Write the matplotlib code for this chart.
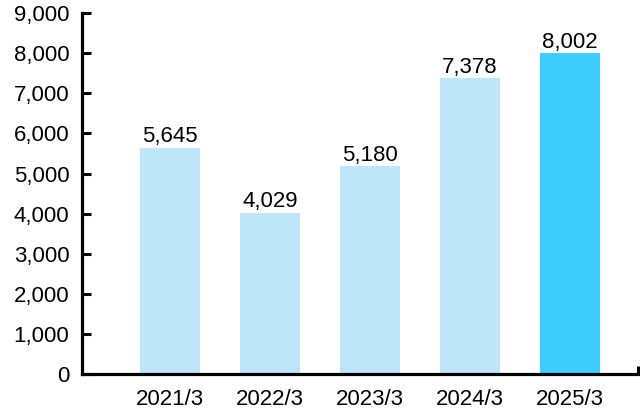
import matplotlib
matplotlib.use("Agg")
import matplotlib.pyplot as plt
from matplotlib.ticker import FuncFormatter

categories = ["2021/3", "2022/3", "2023/3", "2024/3", "2025/3"]
values = [5645, 4029, 5180, 7378, 8002]
colors = ["#BEE5F8", "#BEE5F8", "#BEE5F8", "#BEE5F8", "#3ECEFD"]
yticks = [0, 1000, 2000, 3000, 4000, 5000, 6000, 7000, 8000, 9000]

plt.rcParams['font.family'] = ['Liberation Sans', 'DejaVu Sans']

fig = plt.figure(figsize=(6.4, 4.12), dpi=100)
ax = fig.add_axes([0.128, 0.092, 0.869, 0.876])

x = list(range(len(categories)))
bars = ax.bar(x, values, width=0.6, color=colors, zorder=1)
ax.bar_label(bars, labels=[f"{v:,}" for v in values], padding=0.5, fontsize=16, color="#000000")

ax.set_xlim(-0.88, 4.68)
ax.set_ylim(0, 9000)
ax.set_yticks(yticks)
ax.yaxis.set_major_formatter(FuncFormatter(lambda v, p: f"{int(v):,}"))
ax.set_xticks(x)
ax.set_xticklabels(categories)
ax.set_xticks([4.68], minor=True)

for s in ["top", "right"]:
    ax.spines[s].set_visible(False)
for s in ["left", "bottom"]:
    ax.spines[s].set_linewidth(2.3)
    ax.spines[s].set_color("#000000")
    ax.spines[s].set_zorder(3)

ax.tick_params(axis="y", direction="in", length=6.5, width=2.2, labelsize=16, pad=9, colors="#000000")
ax.tick_params(axis="x", which="major", length=0, labelsize=16, pad=11)
ax.tick_params(axis="x", which="minor", direction="in", length=6, width=2.2)

fig.savefig("out.png", dpi=100)
